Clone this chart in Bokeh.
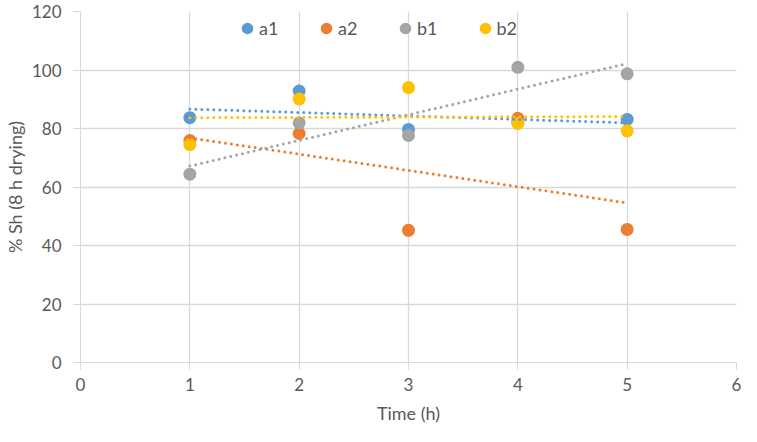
import numpy as np
from bokeh.plotting import figure
from bokeh.models import Legend, LegendItem, FixedTicker
from bokeh.embed import file_html
from bokeh.resources import INLINE

time = [1, 2, 3, 4, 5]
a1 = [83.7, 92.8, 79.7, 82.2, 83.1]
a2 = [75.9, 78.3, 45.2, 83.5, 45.5]
b1 = [64.4, 81.9, 77.6, 100.9, 98.7]
b2 = [74.5, 90.1, 94.0, 81.7, 79.2]
series_names = ["a1", "a2", "b1", "b2"]
colors = ["#5B9BD5", "#ED7D31", "#A5A5A5", "#FFC000"]
x_ticks = [0, 1, 2, 3, 4, 5, 6]
y_ticks = [0, 20, 40, 60, 80, 100, 120]

FONT = "Lato"
TXT = "#595959"

p = figure(width=741, height=426, output_backend="svg", toolbar_location=None,
           x_range=(0, 6), y_range=(0, 120),
           min_border_left=71, min_border_right=5, min_border_top=11, min_border_bottom=60)
p.outline_line_color = None
p.background_fill_color = "white"

for ax in (p.xaxis[0], p.yaxis[0]):
    ax.axis_line_color = "#D9D9D9"
    ax.major_tick_line_color = "#D9D9D9"
    ax.major_tick_out = 7
    ax.major_tick_in = 0
    ax.minor_tick_line_color = None
    ax.major_label_text_font = FONT
    ax.major_label_text_font_size = "17px"
    ax.major_label_text_color = TXT
    ax.axis_label_text_font = FONT
    ax.axis_label_text_font_size = "18px"
    ax.axis_label_text_font_style = "normal"
    ax.axis_label_text_color = TXT

p.xaxis.ticker = FixedTicker(ticks=x_ticks)
p.yaxis.ticker = FixedTicker(ticks=y_ticks)
p.xaxis.axis_label = "Time (h)"
p.yaxis.axis_label = "% Sh (8 h drying)"
p.xaxis.major_label_standoff = 8
p.yaxis.major_label_standoff = 12
p.xaxis.axis_label_standoff = 8
p.yaxis.axis_label_standoff = 3

p.xgrid.grid_line_color = "#D9D9D9"
p.ygrid.grid_line_color = "#D9D9D9"
p.xgrid.grid_line_width = 1.3
p.ygrid.grid_line_width = 1.3

data = [a1, a2, b1, b2]
items = []
for name, ys, c in zip(series_names, data, colors):
    r = p.scatter(time, ys, size=11, color=c, line_color=c, line_width=2)
    items.append(LegendItem(label=name, renderers=[r]))

xs = np.array(time, dtype=float)
for ys, c in zip(data, colors):
    m, b = np.polyfit(xs, np.array(ys), 1)
    xe = [xs.min(), xs.max()]
    p.line(xe, [m * xe[0] + b, m * xe[1] + b], line_color=c, line_width=3,
           line_dash="0 6", line_cap="round")

legend = Legend(items=items, orientation="horizontal", location=(155, 322),
                background_fill_alpha=0, border_line_color=None,
                label_text_font=FONT, label_text_font_size="18px", label_text_color=TXT,
                glyph_width=24, glyph_height=24, label_standoff=0, spacing=35,
                padding=0, margin=0)
p.add_layout(legend, "center")

open("out.html", "w").write(file_html(p, INLINE))
